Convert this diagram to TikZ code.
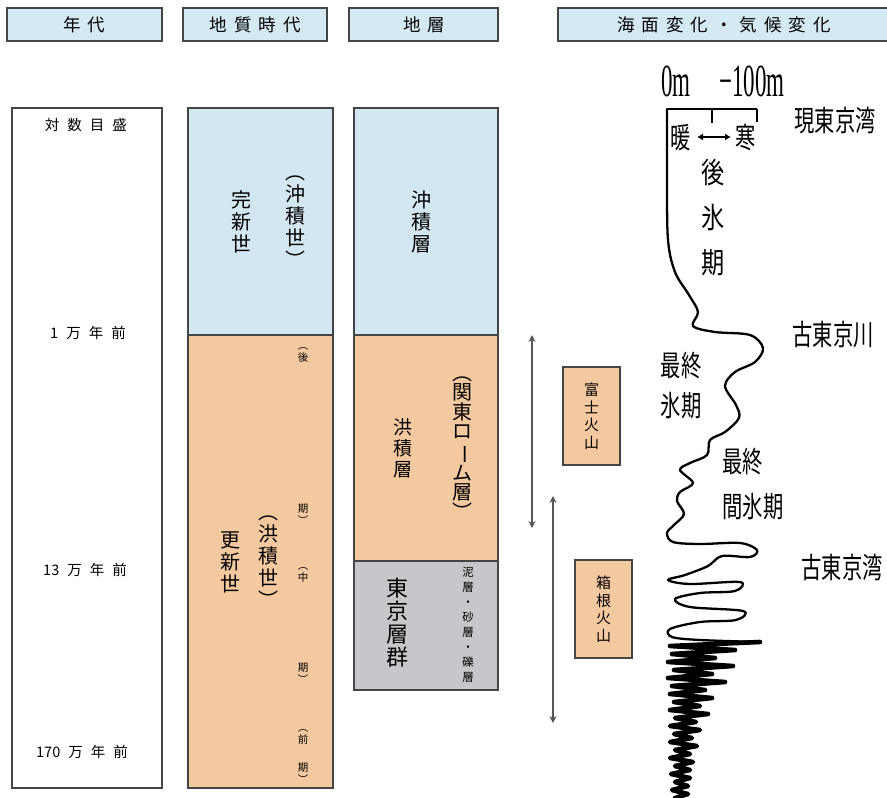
\documentclass[tikz,border=0pt]{standalone}
\usepackage{fontspec}
\setmainfont{Noto Sans CJK JP}
\newfontfamily\serifnum{Liberation Serif}
\usetikzlibrary{arrows.meta}
\definecolor{hdrblue}{HTML}{D5E9F4}
\definecolor{layblue}{HTML}{D3E7F2}
\definecolor{layorange}{HTML}{F5C9A0}
\definecolor{laygray}{HTML}{C7C6CA}
\definecolor{edge}{HTML}{454545}
\definecolor{arrgray}{HTML}{5A5556}
\newcommand\gapx{\hspace{8pt}}
\newcommand\hg{\hspace{7pt}}
\newcommand\vbar{\rotatebox[origin=c]{-90}{ー}}
\newcommand\cnd[1]{\scalebox{0.7}[1]{#1}}
\tikzset{
  hdr/.style={draw=edge, line width=1.3pt, fill=hdrblue},
  colbox/.style={draw=edge, line width=1.3pt},
  vtext/.style={align=center, inner sep=0pt, font=\fontsize{20}{22}\selectfont},
  vsmall/.style={align=center, inner sep=0pt, font=\fontsize{10.5}{12}\selectfont},
  agelbl/.style={inner sep=0pt, font=\fontsize{14.5}{16}\selectfont},
  hdrtxt/.style={inner sep=0pt, font=\fontsize{17.5}{19}\selectfont},
  span/.style={draw=arrgray, line width=1.4pt, {Stealth[length=7pt,width=7pt]}-{Stealth[length=7pt,width=7pt]}},
  volc/.style={draw=edge, line width=1.3pt, fill=layorange},
  curvelbl/.style={inner sep=0pt, font=\fontsize{29}{32}\selectfont},
  sealine/.style={line width=2.3pt, line join=round, line cap=round}
}
\begin{document}
\begin{tikzpicture}[x=1pt,y=-1pt]
\useasboundingbox (0,0) rectangle (887,798);
% headers
\draw[hdr] (7,8) rectangle (162,41);
\draw[hdr] (183,8) rectangle (327,41);
\draw[hdr] (349,8) rectangle (498,41);
\draw[hdr] (558,8) rectangle (892,41);
\node[hdrtxt] (h1) at (84,24.5) {年\hg 代};
\node[hdrtxt] (h2) at (255,24.5) {地\hg 質\hg 時\hg 代};
\node[hdrtxt] (h3) at (424,24.5) {地\hg 層};
\node[hdrtxt] (h4) at (724,24.5) {海\hg 面\hg 変\hg 化\hg ・\hg 気\hg 候\hg 変\hg 化};
% column 1
\draw[colbox] (12,108) rectangle (162,788);
\node[agelbl] (a0) at (86,125) {対\gapx 数\gapx 目\gapx 盛};
\node[agelbl] (a1) at (88,333) {1\gapx 万\gapx 年\gapx 前};
\node[agelbl] (a2) at (85,570) {13\gapx 万\gapx 年\gapx 前};
\node[agelbl] (a3) at (82,752) {170\gapx 万\gapx 年\gapx 前};
% column 2
\fill[layblue] (188,108) rectangle (333,335);
\fill[layorange] (188,335) rectangle (333,788);
\draw[edge, line width=1.1pt] (188,335) -- (333,335);
\draw[colbox] (188,108) rectangle (333,788);
\node[vtext] (kan) at (241,222) {完\\新\\世};
\node[vtext] (chu) at (295,222) {︵\\沖\\積\\世\\︶};
\node[vtext] (kou) at (230,562) {更\\新\\世};
\node[vtext] (kos) at (268,562) {︵\\洪\\積\\世\\︶};
\node[vsmall] (s1) at (303,355) {︵\\後};
\node[vsmall] (s2) at (303,514) {期\\︶};
\node[vsmall] (s3) at (303,575) {︵\\中};
\node[vsmall] (s4) at (303,673) {期\\︶};
\node[vsmall] (s5) at (303,737) {︵\\前};
\node[vsmall] (s6) at (303,773) {期\\︶};
% column 3
\fill[layblue] (354,108) rectangle (498,335);
\fill[layorange] (354,335) rectangle (498,561);
\fill[laygray] (354,561) rectangle (498,690);
\draw[edge, line width=1.1pt] (354,335) -- (498,335);
\draw[edge, line width=1.1pt] (354,561) -- (498,561);
\draw[colbox] (354,108) rectangle (498,690);
\node[vtext] (oki) at (421,222) {沖\\積\\層};
\node[vtext, font=\fontsize{19}{21}\selectfont] (koz) at (403,448) {洪\\積\\層};
\node[vtext, font=\fontsize{20}{19.5}\selectfont] (kr) at (462,448) {︵\\関\\東\\ロ\\\vbar\\ム\\層\\︶};
\node[vtext, font=\fontsize{22}{23}\selectfont] (tk) at (397,623) {東\\京\\層\\群};
\node[vsmall, font=\fontsize{11.5}{15}\selectfont] (dsr) at (468,625) {泥\\層\\・\\砂\\層\\・\\礫\\層};
% range arrows
\coordinate (f1) at (532,335);
\coordinate (f2) at (532,528);
\coordinate (k1) at (553,496);
\coordinate (k2) at (553,723);
\draw[span] (f1) -- (f2);
\draw[span] (k1) -- (k2);
\node[volc, minimum width=57pt, minimum height=98pt, inner sep=0pt, align=center, font=\fontsize{15}{17.5}\selectfont] (fuji) at (591.5,416) {富\\士\\火\\山};
\node[volc, minimum width=57pt, minimum height=98pt, inner sep=0pt, align=center, font=\fontsize{15}{17.5}\selectfont] (hako) at (603.5,609) {箱\\根\\火\\山};
% sea level axis
\coordinate (z0) at (667,109);
\coordinate (z1) at (757,109);
\coordinate (zm) at (712,109);
\coordinate (zmb) at (712,123);
\coordinate (z1b) at (757,122);
\draw[line width=1.8pt] (z0) -- (z1);
\draw[line width=1.4pt] (zm) -- (zmb);
\draw[line width=1.4pt] (z1) -- (z1b);
\node[inner sep=0pt] (m0) at (676,81) {\scalebox{0.5}[1]{\serifnum\fontsize{46}{46}\selectfont 0m}};
\node[inner sep=0pt] (m1) at (752,81) {\scalebox{0.5}[1]{\serifnum\fontsize{46}{46}\selectfont −100m}};
\node[curvelbl] (gen) at (835,121) {\cnd{現東京湾}};
\node[curvelbl] (dan) at (681,138) {\cnd{暖}};
\node[curvelbl] (kan2) at (746,137) {\cnd{寒}};
\coordinate (da) at (697,137);
\coordinate (db) at (731,137);
\draw[line width=2pt, {Latex[length=6pt,width=7pt]}-{Latex[length=6pt,width=7pt]}] (da) -- (db);
\node[inner sep=0pt, align=center, font=\fontsize{29}{45}\selectfont] (kohyo) at (713,218) {\scalebox{0.8}[1]{後}\\\scalebox{0.8}[1]{氷}\\\scalebox{0.8}[1]{期}};
\node[curvelbl] (kogawa) at (833,335) {\cnd{古東京川}};
\node[curvelbl, align=center, font=\fontsize{29}{40}\selectfont] (saihyo) at (681,386) {\cnd{最終}\\\cnd{氷期}};
\node[curvelbl, align=left, font=\fontsize{29}{45}\selectfont] (saikan) at (753,484) {\cnd{最終}\\\cnd{間氷期}};
\node[curvelbl] (kowan) at (842,567) {\cnd{古東京湾}};
% sea level curve
\draw[sealine] plot[smooth, tension=0.55] coordinates {
 (667,109) (667,180) (668,240) (675,272) (689,295) (698,312) (693,326)
 (715,332) (750,335) (763,348) (755,362) (735,372) (725,386) (736,405)
 (739,418) (725,432) (710,440) (707,455) (690,463) (680,470) (693,483)
 (680,492) (677,501) (684,514) (674,525) (667,533) (673,542) (700,544)
 (740,543) (757,550) (750,557) (722,556) (708,566) (685,575) (668,580)
 (690,584) (740,582) (735,591) (700,593) (675,599) (690,607) (743,611)
 (736,620) (700,622) (670,629) (672,637) (700,640) (760,642)};
\draw[line width=4.6pt, line join=round, line cap=round] plot coordinates {
 (760,642) (670,646) (735,650) (672,654) (715,658) (668,662) (733,666)
 (674,670) (712,674) (668,678) (725,682) (672,686) (705,690) (670,694)
 (712,698) (674,702) (700,706) (670,710) (708,714) (675,718) (696,722)
 (670,726) (700,730) (674,734) (692,738) (670,742) (697,746) (675,750)
 (690,754) (670,758) (693,762) (675,766) (690,770) (671,774) (690,778)
 (675,782) (688,786) (672,790) (688,794) (675,798)};
\end{tikzpicture}
\end{document}
